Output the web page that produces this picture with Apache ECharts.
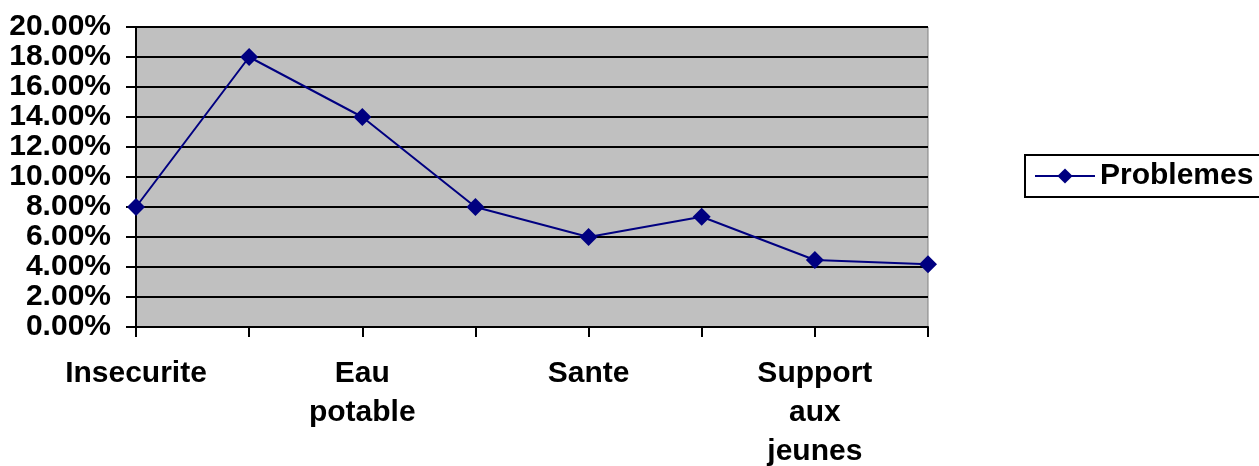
<!DOCTYPE html>
<html><head><meta charset="utf-8">
<script src="https://cdn.jsdelivr.net/npm/echarts@6/dist/echarts.min.js"></script>
<style>html,body{margin:0;padding:0;background:#fff}#c{width:1259px;height:466px}</style>
</head><body><div id="c"></div>
<script>
const categories = ["Insecurite", "", "Eau\npotable", "", "Sante", "", "Support\naux\njeunes", ""];
const seriesName = "Problemes";
const values = [8.0, 18.0, 14.0, 8.0, 6.0, 7.35, 4.47, 4.18];
const yTicks = { min: 0, max: 20, interval: 2 };

const chart = echarts.init(document.getElementById('c'), null, { renderer: 'canvas' });
const font = 'Liberation Sans, Arial, sans-serif';
chart.setOption({
  animation: false,
  backgroundColor: '#ffffff',
  grid: { left: 136, top: 27, width: 792, height: 300, outerBoundsMode: 'none', containLabel: false, show: true, backgroundColor: '#c0c0c0', borderColor: '#808080', borderWidth: 1 },
  legend: {
    left: 1025, top: 155, orient: 'vertical',
    data: [seriesName],
    itemWidth: 60, itemHeight: 19, itemGap: 0,
    padding: [6, 20, 6, 9],
    borderColor: '#000', borderWidth: 2,
    textStyle: { fontFamily: font, fontWeight: 'bold', fontSize: 30, color: '#000' }
  },
  xAxis: {
    type: 'category', data: categories, boundaryGap: false,
    axisLine: { lineStyle: { color: '#000', width: 2 } },
    axisTick: { show: true, interval: 0, length: 10, lineStyle: { color: '#000', width: 2 } },
    axisLabel: { interval: 1, color: '#000', fontFamily: font, fontWeight: 'bold', fontSize: 30, lineHeight: 39, margin: 27 },
    splitLine: { show: false }
  },
  yAxis: {
    type: 'value', min: yTicks.min, max: yTicks.max, interval: yTicks.interval,
    axisLine: { show: true, lineStyle: { color: '#000', width: 2 } },
    axisTick: { show: true, length: 10, lineStyle: { color: '#000', width: 2 } },
    axisLabel: { color: '#000', fontFamily: font, fontWeight: 'bold', fontSize: 30, margin: 25, formatter: v => v.toFixed(2) + '%' },
    splitLine: { show: true, lineStyle: { color: '#000', width: 2 } }
  },
  series: [{
    name: seriesName, type: 'line', data: values,
    symbol: 'diamond', symbolSize: 18,
    lineStyle: { color: '#000080', width: 2 },
    itemStyle: { color: '#000080' },
    z: 5
  }]
});
</script></body></html>
